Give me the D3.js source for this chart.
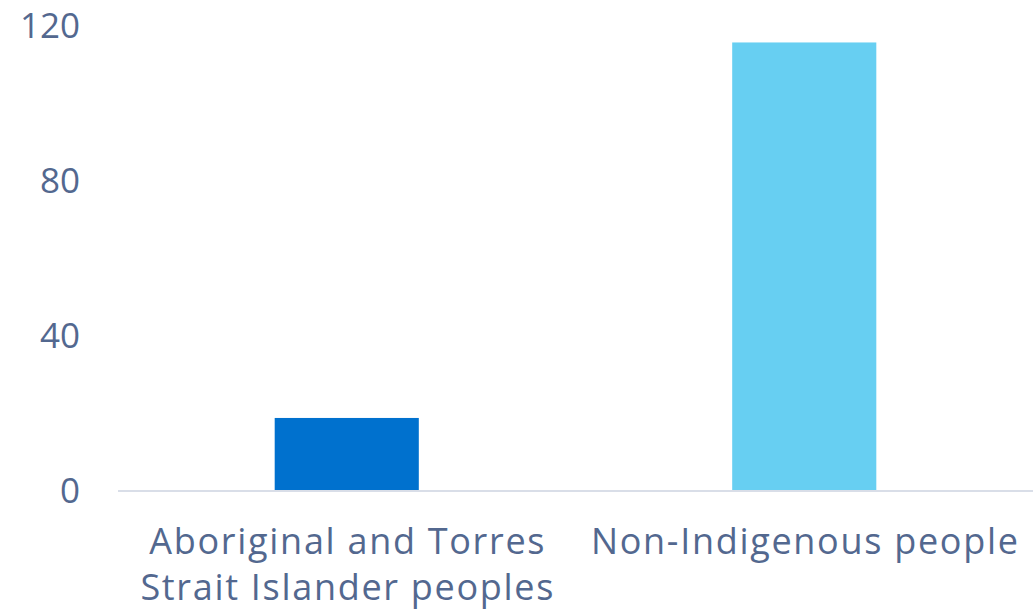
<!DOCTYPE html>
<html><head><meta charset="utf-8">
<script src="https://cdn.jsdelivr.net/npm/d3@7"></script>
<style>body{margin:0;background:#fff}svg{display:block}</style>
</head><body>
<svg id="c" width="1033" height="612"></svg>
<script>
const categories = [["Aboriginal and Torres","Strait Islander peoples"],["Non-Indigenous people"]];
const values = [18.7, 115.5];
const colors = ["#0071ce", "#67cff2"];
const yTicks = [0, 40, 80, 120];

const svg = d3.select("#c");
const font = "'Open Sans', sans-serif";
const textColor = "#53688f";
const x = d3.scaleBand().domain(d3.range(values.length)).range([118, 1033]).paddingInner(0.685).paddingOuter(0.3425);
const y = d3.scaleLinear().domain([0, 120]).range([490.5, 25]);

svg.selectAll("rect.bar").data(values).enter().append("rect")
  .attr("class","bar")
  .attr("x",(d,i)=>x(i)).attr("width",x.bandwidth())
  .attr("y",d=>y(d)).attr("height",d=>y(0)-y(d))
  .attr("fill",(d,i)=>colors[i]);

svg.append("line").attr("x1",118).attr("x2",1033).attr("y1",y(0)+0.5).attr("y2",y(0)+0.5)
  .attr("stroke","#d9dee8").attr("stroke-width",2);

const yAxis = d3.axisLeft(y).tickValues(yTicks).tickSize(0).tickPadding(0);
const ga = svg.append("g").attr("transform","translate(80,0)").call(yAxis);
ga.select(".domain").remove();
ga.selectAll("text").attr("font-family",font).attr("font-size",35).attr("fill",textColor).attr("dy","0.35em");

categories.forEach((lines,i)=>{
  const cx = x(i)+x.bandwidth()/2 + 1;
  const t = svg.append("text").attr("x",cx).attr("y",554)
    .attr("text-anchor","middle").attr("font-family",font).attr("font-size",36)
    .attr("letter-spacing",1.7).attr("fill",textColor);
  lines.forEach((l,j)=>t.append("tspan").attr("x",cx).attr("dy",j===0?0:46).text(l));
});
</script>
</body></html>
